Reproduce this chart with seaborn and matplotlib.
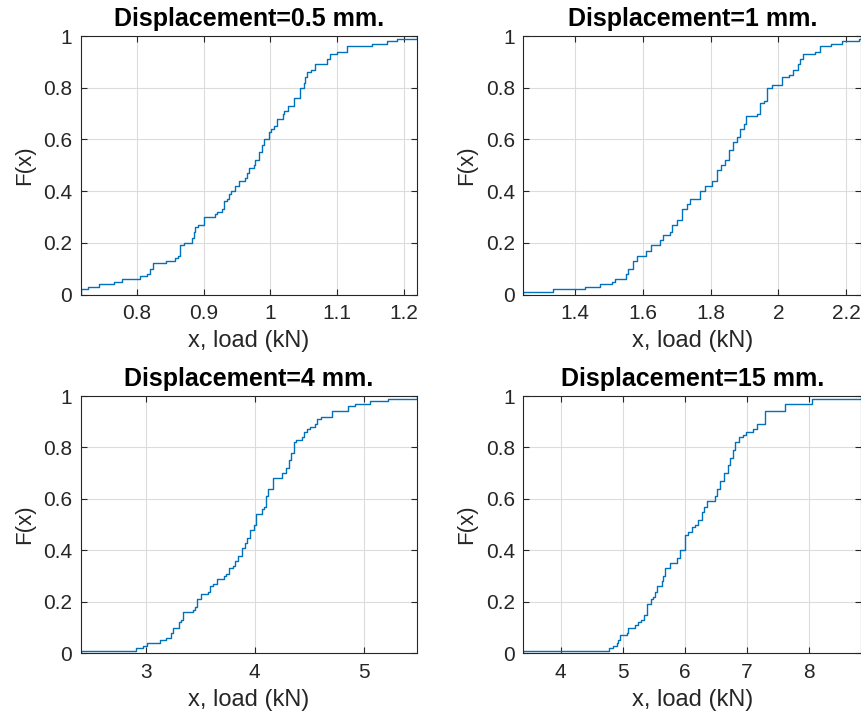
import matplotlib
matplotlib.use("Agg")
import matplotlib.pyplot as plt
import seaborn as sns
import numpy as np
from matplotlib.ticker import FuncFormatter

# ---- data: load samples (kN) read from the empirical CDFs ----
titles = ["Displacement=0.5 mm.", "Displacement=1 mm.",
          "Displacement=4 mm.", "Displacement=15 mm."]

load_05 = [0.716, 0.716, 0.7275, 0.744, 0.766, 0.7775, 0.805, 0.815, 0.82, 0.82,
           0.824, 0.824, 0.844, 0.8575, 0.861, 0.865, 0.865, 0.865, 0.865, 0.871,
           0.8825, 0.8825, 0.885, 0.885, 0.8875, 0.8875, 0.8915, 0.901, 0.901, 0.901,
           0.9175, 0.92, 0.9275, 0.93, 0.93, 0.93, 0.935, 0.9375, 0.9375, 0.941,
           0.9475, 0.9475, 0.9535, 0.9535, 0.9625, 0.965, 0.965, 0.9685, 0.9685, 0.975,
           0.9775, 0.9775, 0.9825, 0.9825, 0.9825, 0.9875, 0.9875, 0.9875, 0.991, 0.991,
           0.9975, 0.9975, 0.9975, 1.0015, 1.005, 1.01, 1.01, 1.01, 1.019, 1.019,
           1.021, 1.0265, 1.0265, 1.035, 1.035, 1.035, 1.044, 1.044, 1.044, 1.044,
           1.05, 1.05, 1.0525, 1.0525, 1.055, 1.055, 1.061, 1.0675, 1.0675, 1.085,
           1.085, 1.09, 1.09, 1.10, 1.114, 1.114, 1.1525, 1.175, 1.189, 1.22]

load_1 = [1.247, 1.334, 1.428, 1.472, 1.508, 1.518, 1.549, 1.549, 1.556, 1.556,
          1.570, 1.570, 1.570, 1.582, 1.582, 1.609, 1.609, 1.624, 1.624, 1.651,
          1.651, 1.659, 1.659, 1.681, 1.686, 1.686, 1.686, 1.700, 1.700, 1.715,
          1.715, 1.715, 1.715, 1.730, 1.730, 1.738, 1.738, 1.769, 1.769, 1.769,
          1.784, 1.784, 1.804, 1.804, 1.819, 1.819, 1.819, 1.819, 1.831, 1.831,
          1.843, 1.843, 1.853, 1.853, 1.853, 1.853, 1.866, 1.866, 1.866, 1.878,
          1.878, 1.886, 1.886, 1.886, 1.900, 1.900, 1.904, 1.904, 1.904, 1.937,
          1.947, 1.947, 1.947, 1.947, 1.957, 1.968, 1.968, 1.968, 1.968, 1.968,
          1.981, 2.011, 2.011, 2.011, 2.031, 2.042, 2.042, 2.057, 2.057, 2.065,
          2.065, 2.073, 2.073, 2.109, 2.124, 2.124, 2.157, 2.188, 2.237, 2.245]

load_4 = [2.403, 2.911, 2.972, 3.009, 3.132, 3.187, 3.233, 3.233, 3.254, 3.254,
          3.306, 3.306, 3.322, 3.346, 3.346, 3.346, 3.432, 3.453, 3.475, 3.475,
          3.475, 3.505, 3.505, 3.570, 3.591, 3.591, 3.616, 3.652, 3.652, 3.714,
          3.738, 3.760, 3.760, 3.799, 3.821, 3.821, 3.851, 3.851, 3.882, 3.882,
          3.882, 3.913, 3.913, 3.934, 3.934, 3.953, 3.953, 3.953, 3.998, 3.998,
          4.011, 4.011, 4.011, 4.011, 4.066, 4.066, 4.087, 4.106, 4.106, 4.106,
          4.106, 4.127, 4.127, 4.127, 4.164, 4.164, 4.164, 4.164, 4.250, 4.250,
          4.289, 4.289, 4.311, 4.311, 4.311, 4.332, 4.332, 4.332, 4.357, 4.357,
          4.357, 4.357, 4.381, 4.433, 4.449, 4.449, 4.479, 4.504, 4.556, 4.571,
          4.571, 4.608, 4.709, 4.709, 4.853, 4.853, 4.923, 5.061, 5.221, 5.493]

load_15 = [3.399, 4.784, 4.848, 4.902, 4.929, 4.956, 4.956, 5.063, 5.090, 5.090,
           5.197, 5.251, 5.294, 5.348, 5.348, 5.385, 5.385, 5.385, 5.385, 5.450,
           5.450, 5.482, 5.519, 5.519, 5.546, 5.546, 5.627, 5.627, 5.654, 5.654,
           5.681, 5.681, 5.681, 5.761, 5.761, 5.879, 5.879, 5.922, 5.922, 5.922,
           6.003, 6.003, 6.003, 6.003, 6.003, 6.003, 6.056, 6.110, 6.110, 6.164,
           6.217, 6.217, 6.271, 6.271, 6.271, 6.309, 6.309, 6.362, 6.362, 6.486,
           6.486, 6.523, 6.523, 6.523, 6.566, 6.566, 6.566, 6.631, 6.631, 6.631,
           6.685, 6.685, 6.685, 6.728, 6.728, 6.728, 6.770, 6.770, 6.770, 6.808,
           6.808, 6.808, 6.862, 6.862, 6.942, 6.980, 7.093, 7.157, 7.157, 7.291,
           7.291, 7.291, 7.291, 7.291, 7.613, 7.613, 7.613, 8.043, 8.043, 8.838]

datasets = [load_05, load_1, load_4, load_15]
xticks_list = [[0.8, 0.9, 1.0, 1.1, 1.2],
               [1.4, 1.6, 1.8, 2.0, 2.2],
               [3, 4, 5],
               [4, 5, 6, 7, 8]]
yticks = [0, 0.2, 0.4, 0.6, 0.8, 1]

# ---- style ----
sns.set_theme(style="white")
plt.rcParams["font.family"] = ["Liberation Sans", "DejaVu Sans"]
dark = "#262626"
line_color = "#0072BD"

W, H = 862, 712
fig = plt.figure(figsize=(W / 100, H / 100), dpi=100)

# axes boxes in pixels: (left, top, right, bottom)
boxes = [(80.7, 36, 417.3, 294.5), (523.3, 36, 861.3, 294.5),
         (80.7, 396, 417.3, 653.3), (523.3, 396, 861.3, 653.3)]

fmt = FuncFormatter(lambda v, p: "%g" % round(v, 6))

for data, title, xt, (l, t, r, b) in zip(datasets, titles, xticks_list, boxes):
    ax = fig.add_axes([l / W, 1 - b / H, (r - l) / W, (b - t) / H])
    sns.ecdfplot(x=data, ax=ax, color=line_color, linewidth=1.0)
    ax.set_xlim(min(data), max(data))
    ax.set_ylim(0, 1)
    ax.set_xticks(xt)
    ax.set_yticks(yticks)
    ax.xaxis.set_major_formatter(fmt)
    ax.yaxis.set_major_formatter(fmt)
    ax.grid(True, color="#dcdcdc", linewidth=0.8)
    ax.set_axisbelow(True)
    for s in ax.spines.values():
        s.set_visible(True)
        s.set_color(dark)
        s.set_linewidth(0.8)
    ax.tick_params(direction="in", length=4, width=0.8, colors=dark,
                   labelsize=15, top=True, right=True, bottom=True, left=True,
                   labeltop=False, labelright=False)
    ax.tick_params(axis="x", pad=7)
    ax.tick_params(axis="y", pad=6)
    ax.set_xlabel("x, load (kN)", fontsize=17, color=dark, labelpad=5)
    ax.set_ylabel("F(x)", fontsize=16, color=dark, labelpad=6)
    ax.set_title(title, fontsize=18, fontweight="bold", color="black", pad=7)

fig.savefig("out.png", dpi=100)
